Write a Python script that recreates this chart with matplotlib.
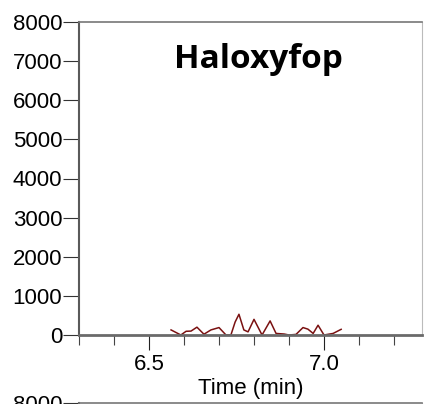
import matplotlib
matplotlib.use('Agg')
import matplotlib.pyplot as plt
from matplotlib.ticker import MultipleLocator

# chromatogram trace (time in min, intensity)
time_min = [6.563, 6.591, 6.606, 6.620, 6.637, 6.657, 6.677, 6.700, 6.720, 6.734,
            6.746, 6.757, 6.771, 6.783, 6.800, 6.823, 6.846, 6.863, 6.886, 6.900,
            6.920, 6.940, 6.954, 6.969, 6.983, 7.000, 7.026, 7.049]
intensity = [130, 0, 95, 100, 200, 20, 130, 190, 0, 0,
             330, 530, 130, 80, 400, 0, 360, 40, 25, 0,
             15, 190, 150, 40, 250, 0, 40, 145]
y_ticks = [0, 1000, 2000, 3000, 4000, 5000, 6000, 7000, 8000]
x_labels = [6.5, 7.0]
compound = 'Haloxyfop'

plt.rcParams['font.family'] = ['Liberation Sans', 'DejaVu Sans']

fig = plt.figure(figsize=(4.26, 4.04), dpi=100)
fig.patch.set_facecolor('white')

spine_col = '#5a5a5a'


def style_axes(ax):
    ax.set_ylim(0, 8000)
    ax.set_yticks(y_ticks)
    ax.tick_params(axis='y', direction='out', length=11.5, width=0.8, color='#333333',
                   labelsize=16, pad=0.5)
    ax.spines['left'].set_color(spine_col)
    ax.spines['left'].set_linewidth(1.5)
    ax.spines['bottom'].set_color('#6a6a6a')
    ax.spines['bottom'].set_linewidth(2)
    ax.spines['top'].set_color('#777777')
    ax.spines['top'].set_linewidth(1.2)
    ax.spines['right'].set_color('#bbbbbb')
    ax.spines['right'].set_linewidth(0.8)


ax = fig.add_axes([79 / 426, 69 / 404, 343 / 426, 313 / 404])
style_axes(ax)
ax.plot(time_min, intensity, color='#7a1111', linewidth=1.1)
ax.set_xlim(6.3, 7.28)
ax.set_xticks(x_labels)
ax.set_xticklabels([f'{v:.1f}' for v in x_labels])
ax.xaxis.set_minor_locator(MultipleLocator(0.1))
ax.tick_params(axis='x', which='major', direction='out', length=11, width=0.8,
               color='#222222', labelsize=16, pad=3)
ax.tick_params(axis='x', which='minor', direction='out', length=7, width=0.8,
               color='#444444')
ax.set_xlabel('Time (min)', fontsize=16, labelpad=2)

ax.text(0.522, 0.853, compound, transform=ax.transAxes, ha='center',
        va='baseline', fontsize=24, fontweight='bold', family='Open Sans')

# next panel, only its top edge is visible
ax2 = fig.add_axes([79 / 426, -0.8, 343 / 426, 0.8 + 1 / 404])
style_axes(ax2)
ax2.set_xticks([])

fig.savefig('out.png', dpi=100)
